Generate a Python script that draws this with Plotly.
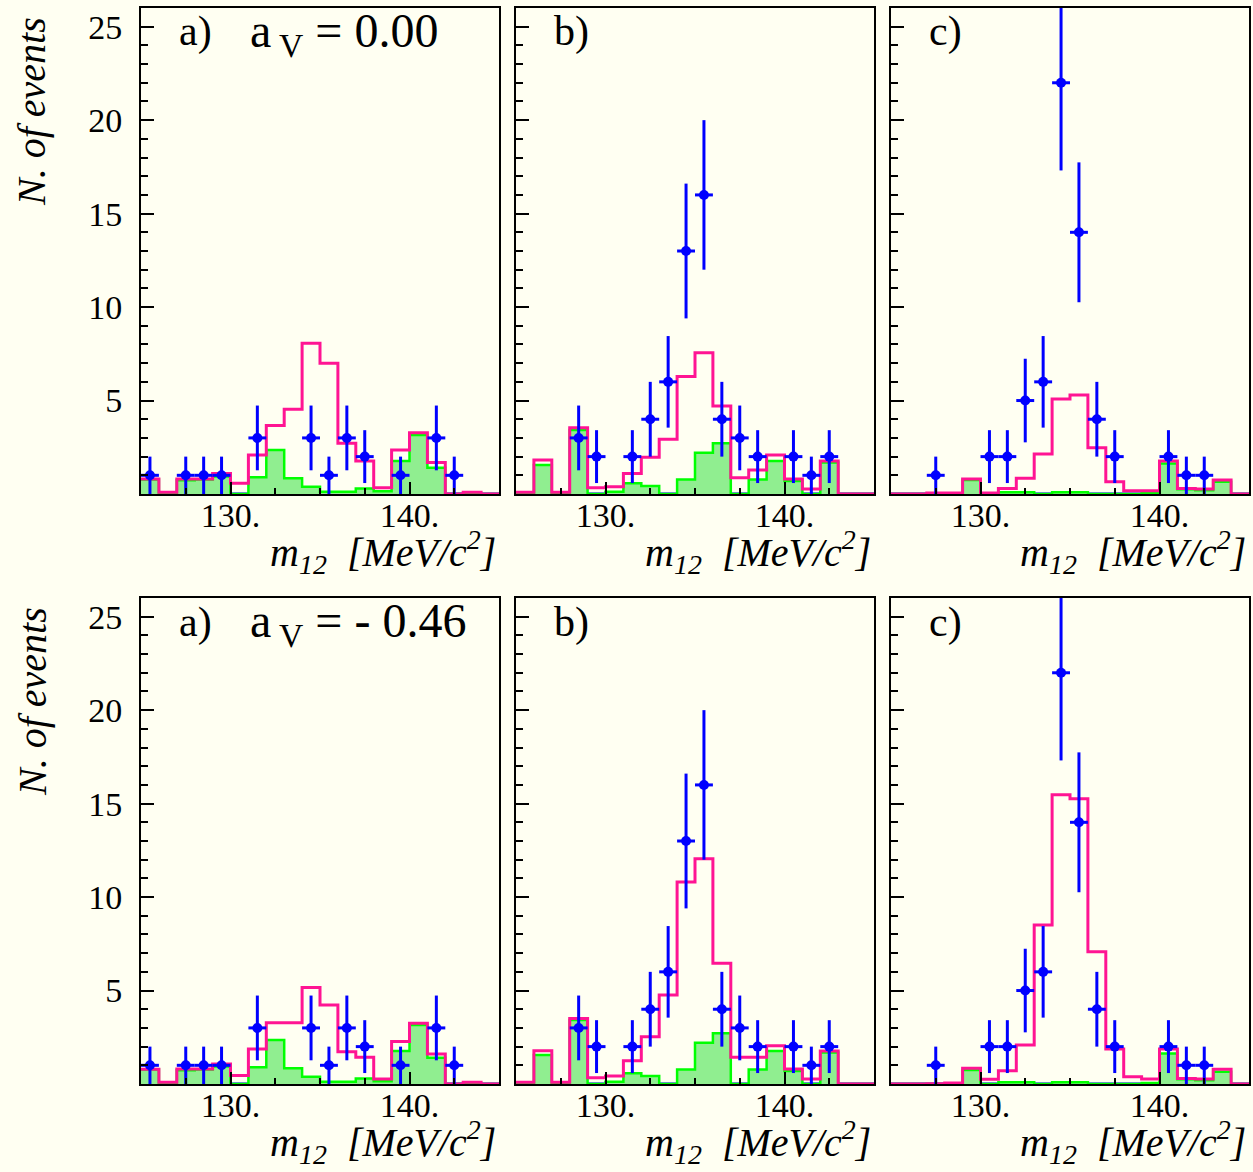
import numpy as np
import plotly.graph_objects as go

# ---------------- data ----------------
bin_edges = [125, 126, 127, 128, 129, 130, 131, 132, 133, 134, 135,
             136, 137, 138, 139, 140, 141, 142, 143, 144, 145]

# observed events per 1 MeV bin (same in both rows)
counts_a = [1, 0, 1, 1, 1, 0, 3, 0, 0, 3, 1, 3, 2, 0, 1, 0, 3, 1, 0, 0]
counts_b = [0, 0, 0, 3, 2, 0, 2, 4, 6, 13, 16, 4, 3, 2, 0, 2, 1, 2, 0, 0]
counts_c = [0, 0, 1, 0, 0, 2, 2, 5, 6, 22, 14, 4, 2, 0, 0, 2, 1, 1, 0, 0]

# background (green filled)
bkg_a = [0.78, 0, 0.73, 0.77, 0.93, 0, 0.89, 2.36, 0.84, 0.39, 0.12, 0.12, 0.3, 0.15, 1.77, 3.16, 1.41, 0, 0, 0]
bkg_b = [0, 1.55, 0, 3.43, 0, 0.12, 0.57, 0.43, 0, 0.78, 2.21, 2.71, 0, 0.78, 1.77, 0.7, 0, 1.68, 0, 0]
bkg_c = [0, 0, 0, 0, 0.75, 0, 0.1, 0.1, 0, 0.1, 0.1, 0, 0, 0, 0.05, 1.63, 0.25, 0.2, 0.66, 0]

# total expectation, a_V = 0.00 (top row)
tot_top_a = [0.8, 0.1, 0.8, 0.8, 1.1, 0.57, 2.09, 3.66, 4.53, 8.07, 7.0, 2.71, 1.77, 0.34, 2.36, 3.28, 1.68, 0, 0.1, 0]
tot_top_b = [0.1, 1.82, 0.1, 3.55, 0.34, 0.39, 1.1, 1.96, 2.93, 6.28, 7.56, 4.71, 0.87, 1.28, 2.09, 0.8, 0.27, 1.77, 0, 0]
tot_top_c = [0, 0, 0.05, 0.05, 0.8, 0.05, 0.3, 0.84, 2.14, 5.08, 5.3, 2.48, 0.66, 0.18, 0.18, 1.77, 0.3, 0.27, 0.75, 0]

# total expectation, a_V = -0.46 (bottom row)
tot_bot_a = [0.79, 0.1, 0.8, 0.8, 1.07, 0.45, 1.87, 3.28, 3.28, 5.16, 4.23, 1.73, 1.43, 0.27, 2.27, 3.25, 1.6, 0, 0.1, 0]
tot_bot_b = [0.1, 1.78, 0.1, 3.5, 0.34, 0.43, 1.25, 2.53, 4.76, 10.8, 12.05, 6.46, 1.43, 1.43, 2.05, 0.8, 0.27, 1.77, 0, 0]
tot_bot_c = [0, 0, 0.02, 0.05, 0.84, 0.25, 0.71, 2.09, 8.5, 15.47, 15.26, 7.07, 1.87, 0.39, 0.27, 1.87, 0.3, 0.27, 0.79, 0]

panel_letters = ["a)", "b)", "c)"]
row_labels = ["a<sub> V</sub> = 0.00", "a<sub> V</sub> = - 0.46"]
x_tick_vals = [130, 140]
x_tick_text = ["130.", "140."]
y_tick_vals = [5, 10, 15, 20, 25]
y_tick_text = ["5", "10", "15", "20", "25"]

# ---------------- styling ----------------
W, H = 1253, 1172
BG = "#fffff2"
FONT = "Liberation Serif, Times New Roman, serif"
MAGENTA = "#ff1493"
GREEN_LINE = "#00ff00"
GREEN_FILL = "#90ee90"
BLUE = "#0000ff"

col_px = [(141, 499), (516, 874), (891, 1249)]
row_px = [(8, 494), (598, 1084)]

counts = [counts_a, counts_b, counts_c]
bkgs = [bkg_a, bkg_b, bkg_c]
tots = [[tot_top_a, tot_top_b, tot_top_c], [tot_bot_a, tot_bot_b, tot_bot_c]]

edges = np.array(bin_edges, dtype=float)
centers = 0.5 * (edges[:-1] + edges[1:])
halfw = 0.5 * (edges[1:] - edges[:-1])

fig = go.Figure()
layout = {}

def step_xy(vals):
    return list(edges), list(vals) + [vals[-1]]

k = 0
for r in range(2):
    for c in range(3):
        k += 1
        xa = "x" if k == 1 else f"x{k}"
        ya = "y" if k == 1 else f"y{k}"
        xs, ys = step_xy([0] * len(centers))
        fig.add_trace(go.Scatter(x=xs, y=ys, xaxis=xa, yaxis=ya, mode="lines",
                                 line=dict(color=BLUE, width=3, shape="hv"),
                                 showlegend=False, hoverinfo="skip"))
        xs, ys = step_xy(bkgs[c])
        fig.add_trace(go.Scatter(x=xs, y=ys, xaxis=xa, yaxis=ya, mode="lines",
                                 line=dict(color=GREEN_LINE, width=2.5, shape="hv"),
                                 fill="tozeroy", fillcolor=GREEN_FILL,
                                 showlegend=False, hoverinfo="skip"))
        xs, ys = step_xy(tots[r][c])
        fig.add_trace(go.Scatter(x=xs, y=ys, xaxis=xa, yaxis=ya, mode="lines",
                                 line=dict(color=MAGENTA, width=3, shape="hv"),
                                 showlegend=False, hoverinfo="skip"))
        n = np.array(counts[c], dtype=float)
        m = n > 0
        fig.add_trace(go.Scatter(
            x=centers[m], y=n[m], xaxis=xa, yaxis=ya, mode="markers",
            marker=dict(color=BLUE, size=10, symbol="circle"),
            error_y=dict(type="data", array=np.sqrt(n[m]), color=BLUE, thickness=3, width=0),
            error_x=dict(type="data", array=halfw[m], color=BLUE, thickness=3, width=0),
            showlegend=False, hoverinfo="skip"))

        x0, x1 = col_px[c]
        y0, y1 = row_px[r]
        xkey = "xaxis" if k == 1 else f"xaxis{k}"
        ykey = "yaxis" if k == 1 else f"yaxis{k}"
        layout[xkey] = dict(
            domain=[x0 / W, x1 / W], anchor=ya, range=[125, 145],
            showgrid=False, zeroline=False, showline=True, mirror=True,
            linecolor="black", linewidth=2,
            tickmode="array", tickvals=x_tick_vals, ticktext=x_tick_text,
            ticks="inside", ticklen=12, tickwidth=2, tickcolor="black",
            minor=dict(tickmode="linear", tick0=125, dtick=2.5, ticks="inside",
                       ticklen=6, tickwidth=2, tickcolor="black"),
            tickfont=dict(family=FONT, size=34, color="black"),
            ticklabelstandoff=-10, fixedrange=True)
        layout[ykey] = dict(
            domain=[1 - y1 / H, 1 - y0 / H], anchor=xa, range=[0, 26],
            showgrid=False, zeroline=False, showline=True, mirror=True,
            linecolor="black", linewidth=2,
            tickmode="array", tickvals=y_tick_vals, ticktext=y_tick_text,
            showticklabels=(c == 0),
            ticks="inside", ticklen=13, tickwidth=2, tickcolor="black",
            minor=dict(tickmode="linear", tick0=0, dtick=1, ticks="inside",
                       ticklen=7, tickwidth=2, tickcolor="black"),
            tickfont=dict(family=FONT, size=34, color="black"),
            ticklabelstandoff=10, fixedrange=True)

annotations = []
for r in range(2):
    y0, y1 = row_px[r]
    for c in range(3):
        x0, x1 = col_px[c]
        annotations.append(dict(
            x=(x0 + 36) / W, y=1 - (y0 + 24) / H, xref="paper", yref="paper",
            text=panel_letters[c], showarrow=False, xanchor="left", yanchor="middle",
            font=dict(family=FONT, size=42, color="black")))
        annotations.append(dict(
            x=(x1 - 1) / W, y=1 - (y1 + 58) / H, xref="paper", yref="paper",
            text="<i>m</i><sub><i>12</i></sub>  <i>[MeV/c<sup>2</sup>]</i>",
            showarrow=False, xanchor="right", yanchor="middle",
            font=dict(family=FONT, size=40, color="black")))
    annotations.append(dict(
        x=248 / W, y=1 - (y0 + 26) / H, xref="paper", yref="paper",
        text=row_labels[r], showarrow=False, xanchor="left", yanchor="middle",
        font=dict(family=FONT, size=48, color="black")))
    annotations.append(dict(
        x=32 / W, y=1 - (y0 + 104) / H, xref="paper", yref="paper",
        text="<i>N. of events</i>", showarrow=False, textangle=-90,
        xanchor="center", yanchor="middle",
        font=dict(family=FONT, size=40, color="black")))

fig.update_layout(
    width=W, height=H, margin=dict(l=0, r=0, t=0, b=0),
    paper_bgcolor=BG, plot_bgcolor=BG, showlegend=False,
    annotations=annotations, **layout)

fig.write_html("out.html", config={"displayModeBar": False})
